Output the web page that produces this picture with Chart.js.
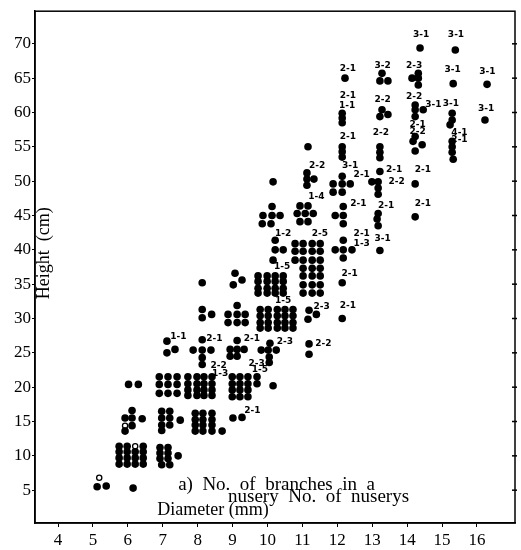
<!DOCTYPE html>
<html>
<head>
<meta charset="utf-8">
<script src="https://cdn.jsdelivr.net/npm/chart.js@4"></script>
<style>
  html, body { margin: 0; padding: 0; background: #fff; }
</style>
</head>
<body>
<canvas id="myChart" width="521" height="550"></canvas>
<script>
const xTicks = [4, 5, 6, 7, 8, 9, 10, 11, 12, 13, 14, 15, 16]
const yTicks = [5, 10, 15, 20, 25, 30, 35, 40, 45, 50, 55, 60, 65, 70]

// diameter (mm), height (cm) - one dot per nursery plant
const dots = [
  [5.12,5.5],[5.38,5.6],[6.15,5.3],
  // 6 mm
  [5.75,11.4],[5.98,11.4],[6.44,11.4],
  [5.75,10.6],[5.98,10.6],[6.21,10.6],[6.44,10.6],
  [5.75,9.7],[5.98,9.7],[6.21,9.7],[6.44,9.7],
  [5.75,8.8],[5.98,8.8],[6.21,8.8],[6.44,8.8],
  [6.12,16.6],[5.92,15.5],[6.12,15.5],[6.41,15.4],[6.12,14.4],[5.92,13.6],
  [6.02,20.4],[6.3,20.4],
  // 7 mm
  [6.92,11.2],[7.15,11.2],[6.92,10.4],[7.15,10.4],[7.44,10.0],[6.92,9.6],[7.15,9.6],[6.97,8.7],[7.2,8.7],
  [6.97,16.5],[7.2,16.5],[6.97,15.5],[7.2,15.5],[7.5,15.2],[6.97,14.5],[7.2,14.5],[6.97,13.7],
  [6.9,21.5],[7.15,21.5],[7.41,21.5],[6.9,20.4],[7.15,20.4],[7.41,20.4],[6.9,19.1],[7.15,19.1],[7.41,19.1],
  [7.12,26.7],[7.12,25.0],[7.35,25.5],
  // 8 mm
  [7.93,16.2],[8.15,16.2],[8.41,16.2],
  [7.93,15.3],[8.15,15.3],[8.41,15.3],
  [7.93,14.5],[8.15,14.5],[8.41,14.5],
  [7.93,13.6],[8.15,13.6],[8.41,13.6],[8.7,13.6],
  [7.72,21.5],[7.98,21.5],[8.18,21.5],[8.41,21.5],
  [7.72,20.5],[7.98,20.5],[8.18,20.5],[8.41,20.5],
  [7.72,19.6],[7.98,19.6],[8.18,19.6],[8.41,19.6],
  [7.72,18.8],[7.98,18.8],[8.18,18.8],[8.41,18.8],
  [8.13,26.9],[7.87,25.4],[8.13,25.4],[8.38,25.4],[8.13,24.3],[8.13,23.3],
  [8.13,31.3],[8.13,30.1],[8.4,30.6],
  [8.13,35.2],
  // 9 mm
  [9.01,15.5],[9.27,15.6],
  [8.99,21.5],[9.21,21.5],[9.44,21.5],[9.7,21.5],
  [8.99,20.5],[9.21,20.5],[9.44,20.5],[9.7,20.5],
  [8.99,19.6],[9.21,19.6],[9.44,19.6],
  [8.99,18.6],[9.21,18.6],[9.44,18.6],
  [9.13,26.8],[8.93,25.5],[9.13,25.5],[9.33,25.5],[8.93,24.5],[9.13,24.5],
  [9.13,31.9],[8.87,30.6],[9.13,30.6],[9.36,30.6],[8.87,29.4],[9.13,29.4],[9.36,29.4],
  [9.07,36.6],[9.27,35.6],[9.02,34.9],
  // 10 mm
  [10.16,20.2],
  [10.07,26.4],[9.82,25.4],[10.02,25.4],[10.25,25.4],[10.05,24.4],[10.05,23.6],
  [9.79,31.3],[10.02,31.3],[10.28,31.3],[10.5,31.3],[10.73,31.3],
  [9.79,30.4],[10.02,30.4],[10.28,30.4],[10.5,30.4],[10.73,30.4],
  [9.79,29.4],[10.02,29.4],[10.28,29.4],[10.5,29.4],[10.73,29.4],
  [9.79,28.6],[10.02,28.6],[10.28,28.6],[10.5,28.6],[10.73,28.6],
  [9.73,36.2],[9.99,36.2],[10.22,36.2],[10.45,36.2],
  [9.73,35.4],[9.99,35.4],[10.22,35.4],[10.45,35.4],
  [9.73,34.4],[9.99,34.4],[10.22,34.4],[10.45,34.4],
  [9.73,33.7],[9.99,33.7],[10.22,33.7],[10.45,33.7],
  [10.22,41.4],[10.22,40.0],[10.45,40.0],[10.16,38.5],
  [10.13,46.3],[9.87,45.0],[10.13,45.0],[10.36,45.0],[9.85,43.8],[10.1,43.8],
  [10.16,49.9],
  // 11 mm
  [11.19,26.3],[11.19,24.8],
  [11.19,31.2],[11.4,30.6],[11.16,29.9],
  [10.79,40.9],[11.02,40.9],[11.28,40.9],[11.51,40.9],
  [10.79,39.8],[11.02,39.8],[11.28,39.8],[11.51,39.8],
  [10.79,38.5],[11.02,38.5],[11.28,38.5],[11.51,38.5],
  [11.02,37.3],[11.28,37.3],[11.51,37.3],
  [11.02,36.2],[11.28,36.2],[11.51,36.2],
  [11.02,34.9],[11.28,34.9],[11.51,34.9],
  [11.02,33.7],[11.28,33.7],[11.51,33.7],
  [10.93,46.4],[11.16,46.4],[10.85,45.3],[11.08,45.3],[11.31,45.3],[10.93,44.1],[11.16,44.1],
  [11.13,51.2],[11.13,50.3],[11.33,50.3],[11.13,49.4],
  [11.16,55.0],
  // 12 mm
  [12.14,30.0],
  [12.14,35.2],
  [12.17,41.4],[11.94,40.0],[12.17,40.0],[12.42,40.0],[12.17,38.8],
  [12.17,46.3],[11.94,45.0],[12.17,45.0],[12.17,43.8],
  [12.14,50.7],[11.88,49.6],[12.14,49.6],[12.37,49.6],[11.88,48.4],[12.14,48.4],
  [12.14,55.0],[12.14,54.3],[12.14,53.5],
  [12.14,59.9],[12.14,59.2],[12.14,58.5],
  [12.22,65.0],
  // 13 mm
  [13.22,39.9],
  [13.17,45.3],[13.14,44.5],[13.17,43.5],
  [13.22,51.4],[12.99,49.9],[13.17,49.9],[13.17,49.0],[13.17,48.1],
  [13.22,55.0],[13.22,54.2],[13.22,53.4],
  [13.28,60.4],[13.22,59.4],[13.45,59.7],
  [13.28,65.7],[13.22,64.6],[13.45,64.6],
  // 14 mm
  [14.23,44.8],
  [14.23,49.6],
  [14.23,56.5],[14.17,55.8],[14.43,55.3],[14.23,54.4],
  [14.23,61.1],[14.46,60.4],[14.23,60.4],[14.23,59.4],
  [14.32,65.7],[14.14,65.0],[14.32,65.0],[14.32,64.0],
  [14.37,69.4],
  // 15 mm
  [15.29,55.8],[15.29,55.0],[15.29,54.2],[15.32,53.2],
  [15.29,59.9],[15.29,58.9],[15.23,58.2],
  [15.32,64.2],
  [15.38,69.1],
  // 16 mm
  [16.23,58.9],
  [16.29,64.1]
]

const openDots = [[5.18,6.8],[6.21,11.4],[5.92,14.4]]

// small hand-written "branches - nurseries" notes beside the dots
const notes = [
  '1-1','2-1','2-1','2-3','2-2',
  '2-2','1-3','2-3','1-5','2-1',
  '1-5','2-3','2-1','2-1','1-5',
  '1-2','2-5','1-4','2-2','3-1','2-1',
  '2-1','2-1','1-3','3-1','2-1','2-1','2-2',
  '2-2','2-1','2-1','1-1','2-1','3-2','2-2',
  '2-3','2-2','3-1','2-1','2-2','2-1','2-1',
  '3-1','3-1','3-1','3-1','4-1','2-1','3-1','3-1'
]
const notePoints = [
  [7.45,27.4],[8.48,27.0],[9.55,27.0],[10.5,26.6],[11.6,26.3],
  [8.6,23.2],[8.64,22.0],[9.69,23.4],[9.78,22.6],[9.57,16.6],
  [10.45,32.6],[11.55,31.7],[12.3,31.9],[12.35,36.6],[10.42,37.6],
  [10.45,42.4],[11.5,42.4],[11.4,47.8],[11.42,52.2],[12.37,52.2],[12.7,51.0],
  [12.6,46.7],[12.7,42.4],[12.7,40.9],[13.3,41.6],[13.4,46.4],[13.63,51.7],[13.7,49.9],
  [13.25,57.0],[12.3,56.5],[12.3,62.5],[12.28,61.0],[12.3,66.4],[13.3,66.8],[13.3,61.8],
  [14.2,66.8],[14.2,62.3],[14.75,61.1],[14.3,58.3],[14.3,57.2],[14.45,51.7],[14.45,46.7],
  [14.4,71.3],[15.4,71.3],[15.3,66.3],[15.25,61.3],[15.5,57.0],[15.5,56.0],[16.3,66.0],[16.26,60.6]
]

const serif = "'Liberation Serif', 'DejaVu Serif', serif"

const noteLabels = {
  id: 'noteLabels',
  afterDatasetsDraw(chart){
    const ctx = chart.ctx
    const meta = chart.getDatasetMeta(2)
    ctx.save()
    ctx.fillStyle = '#000'
    ctx.font = "bold 9px 'DejaVu Sans', sans-serif"
    ctx.textAlign = 'center'
    ctx.textBaseline = 'middle'
    meta.data.forEach((pt, i) => ctx.fillText(notes[i], pt.x, pt.y))
    ctx.restore()
  }
}

const frame = {
  id: 'frame',
  afterDraw(chart){
    const {ctx, chartArea: a, scales} = chart
    ctx.save()
    ctx.strokeStyle = '#000'
    ctx.lineWidth = 1.5
    ctx.strokeRect(a.left, a.top, a.right - a.left, a.bottom - a.top)
    // little ticks on the right edge
    yTicks.forEach(v => {
      const y = scales.y.getPixelForValue(v)
      ctx.beginPath()
      ctx.moveTo(a.right - 3, y)
      ctx.lineTo(a.right + 2, y)
      ctx.stroke()
    })
    ctx.fillStyle = '#000'
    ctx.font = '19px ' + serif
    ctx.textBaseline = 'middle'
    ctx.textAlign = 'left'
    const px = v => scales.x.getPixelForValue(v)
    const py = v => scales.y.getPixelForValue(v)
    ctx.fillText('a)  No.  of  branches  in  a', px(7.44), py(5.8))
    ctx.fillText('nusery  No.  of  nuserys', px(8.87), py(3.95))
    ctx.font = '18px ' + serif
    ctx.fillText('Diameter (mm)', px(6.84), py(2.1))
    // y title sits inside the frame
    ctx.translate(a.left + 9, py(39.5))
    ctx.rotate(-Math.PI / 2)
    ctx.textAlign = 'center'
    ctx.fillText('Height  (cm)', 0, 0)
    ctx.restore()
  }
}

new Chart(document.getElementById('myChart'), {
  type: 'scatter',
  data: {
    datasets: [
      {
        data: dots.map(p => ({x: p[0], y: p[1]})),
        pointRadius: 3.8,
        pointBackgroundColor: '#000',
        pointBorderWidth: 0
      },
      {
        data: openDots.map(p => ({x: p[0], y: p[1]})),
        pointRadius: 2.6,
        pointBackgroundColor: '#fff',
        pointBorderColor: '#000',
        pointBorderWidth: 1.3
      },
      {
        data: notePoints.map(p => ({x: p[0], y: p[1]})),
        pointRadius: 0
      }
    ]
  },
  options: {
    responsive: false,
    animation: false,
    devicePixelRatio: 1,
    layout: {padding: {top: 5, right: 6, left: 0, bottom: 0}},
    plugins: {legend: {display: false}, tooltip: {enabled: false}},
    scales: {
      x: {
        type: 'linear',
        min: 3.34,
        max: 17.09,
        afterBuildTicks: s => { s.ticks = xTicks.map(v => ({value: v})) },
        afterFit: s => { s.height = 27 },
        grid: {drawOnChartArea: false, tickLength: 4, color: '#000'},
        border: {color: '#000', width: 1.5},
        ticks: {color: '#000', padding: 3, autoSkip: false, maxRotation: 0, font: {family: serif, size: 17}}
      },
      y: {
        min: 0.22,
        max: 74.75,
        afterBuildTicks: s => { s.ticks = yTicks.map(v => ({value: v})) },
        afterFit: s => { s.width = 35 },
        grid: {drawOnChartArea: false, tickLength: 3, color: '#000'},
        border: {color: '#000', width: 1.5},
        ticks: {color: '#000', padding: 1, font: {family: serif, size: 17}}
      }
    }
  },
  plugins: [noteLabels, frame]
})
</script>
</body>
</html>
